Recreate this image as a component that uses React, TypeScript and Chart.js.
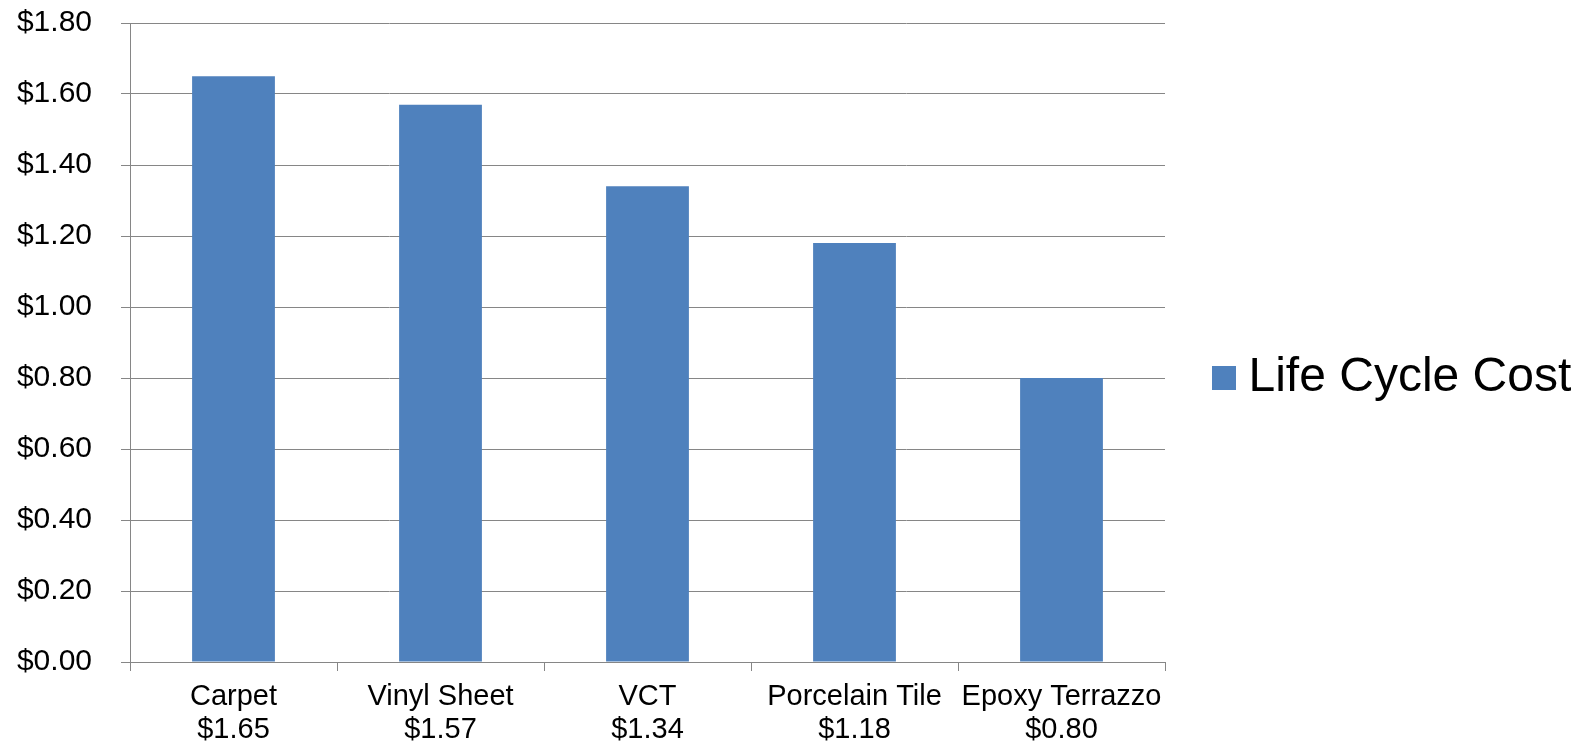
import React, { useEffect, useRef } from "react";
import { Chart, registerables } from "chart.js";

Chart.register(...registerables);

const categories: string[][] = [
  ["Carpet", "$1.65"],
  ["Vinyl Sheet", "$1.57"],
  ["VCT", "$1.34"],
  ["Porcelain Tile", "$1.18"],
  ["Epoxy Terrazzo", "$0.80"],
];
const seriesName = "Life Cycle Cost";
const lifeCycleCost: number[] = [1.65, 1.57, 1.34, 1.18, 0.8];
const yMin = 0;
const yMax = 1.8;
const yStep = 0.2;

const FONT = "'Liberation Sans', Arial, sans-serif";
const GRID = "#868686";
const BAR = "#4F81BD";
const LEGEND_WIDTH = 423;

const legendWidthPlugin = {
  id: "legendWidth",
  beforeLayout(chart: any) {
    const lg = chart.legend;
    if (lg && !lg.__fixedWidth) {
      const orig = lg.fit;
      lg.fit = function (this: any) {
        orig.call(this);
        this.width = LEGEND_WIDTH;
      };
      lg.__fixedWidth = true;
    }
  },
};

export default function App() {
  const ref = useRef<HTMLCanvasElement | null>(null);

  useEffect(() => {
    document.body.style.margin = "0";
    if (!ref.current) return;
    const chart = new Chart(ref.current, {
      type: "bar",
      data: {
        labels: categories,
        datasets: [
          {
            label: seriesName,
            data: lifeCycleCost,
            backgroundColor: BAR,
            borderWidth: 0,
            categoryPercentage: 1,
            barPercentage: 0.4,
          },
        ],
      },
      plugins: [legendWidthPlugin],
      options: {
        animation: false,
        responsive: true,
        maintainAspectRatio: false,
        layout: { padding: { left: 8, right: 0, top: 11, bottom: 0 } },
        plugins: {
          tooltip: { enabled: false },
          legend: {
            position: "right",
            labels: {
              usePointStyle: true,
              pointStyle: "rect",
              boxWidth: 1,
              boxHeight: 24,
              padding: 58.5,
              color: "#000",
              font: { family: FONT, size: 48 },
            },
          },
        },
        scales: {
          x: {
            offset: true,
            grid: {
              offset: true,
              drawOnChartArea: false,
              drawTicks: true,
              tickLength: 9,
              color: GRID,
              lineWidth: 1,
            },
            border: { color: GRID, width: 1 },
            ticks: {
              color: "#000",
              padding: 10,
              maxRotation: 0,
              autoSkip: false,
              font: { family: FONT, size: 29, lineHeight: 1.12 },
            },
            afterFit: (s: any) => {
              s.height = 83;
            },
          },
          y: {
            min: yMin,
            max: yMax,
            grid: {
              color: GRID,
              lineWidth: 1,
              tickLength: 9,
              drawTicks: true,
            },
            border: { color: GRID, width: 1 },
            ticks: {
              stepSize: yStep,
              color: "#000",
              padding: 29,
              font: { family: FONT, size: 30 },
              callback: (v: any) => "$" + Number(v).toFixed(2),
            },
            afterFit: (s: any) => {
              s.width = 122;
              s.paddingTop = 23;
              s.paddingBottom = 0;
            },
          },
        },
      },
    });
    return () => chart.destroy();
  }, []);

  return (
    <div style={{ position: "fixed", left: 0, top: 0, width: 1588, height: 745 }}>
      <canvas ref={ref} />
    </div>
  );
}
